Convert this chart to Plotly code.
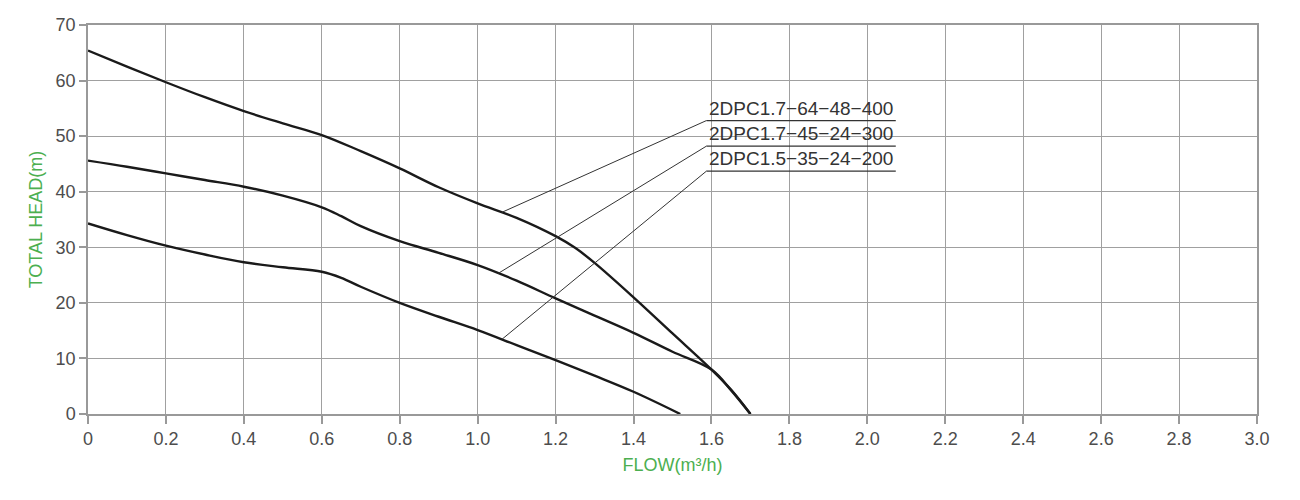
import numpy as np
import plotly.graph_objects as go

# ---- data ----
c1_x = [0, 0.1, 0.2, 0.3, 0.4, 0.5, 0.6, 0.7, 0.8, 0.9, 1.0, 1.1, 1.2, 1.25, 1.3, 1.4, 1.5, 1.6, 1.65, 1.7]
c1_y = [65.4, 62.5, 59.7, 57.0, 54.5, 52.3, 50.2, 47.3, 44.2, 40.8, 37.9, 35.3, 32.0, 29.9, 27.2, 21.0, 14.5, 8.0, 4.4, 0]

c2_x = [0, 0.1, 0.2, 0.3, 0.4, 0.5, 0.6, 0.65, 0.7, 0.8, 0.9, 1.0, 1.1, 1.2, 1.3, 1.4, 1.5, 1.6, 1.65, 1.7]
c2_y = [45.6, 44.5, 43.3, 42.1, 40.9, 39.3, 37.2, 35.6, 33.8, 31.1, 29.0, 26.8, 24.0, 20.8, 17.7, 14.6, 11.2, 8.0, 4.3, 0]

c3_x = [0, 0.1, 0.2, 0.3, 0.4, 0.5, 0.6, 0.65, 0.7, 0.8, 0.9, 1.0, 1.1, 1.2, 1.3, 1.4, 1.52]
c3_y = [34.3, 32.2, 30.3, 28.7, 27.3, 26.4, 25.6, 24.5, 22.9, 20.0, 17.5, 15.1, 12.4, 9.7, 6.9, 4.0, 0]

series_names = ["2DPC1.7\u221264\u221248\u2212400", "2DPC1.7\u221245\u221224\u2212300", "2DPC1.5\u221235\u221224\u2212200"]
attach_x = [1.062, 1.053, 1.062]

x_ticks = [0, 0.2, 0.4, 0.6, 0.8, 1.0, 1.2, 1.4, 1.6, 1.8, 2.0, 2.2, 2.4, 2.6, 2.8, 3.0]
x_tick_text = ["0", "0.2", "0.4", "0.6", "0.8", "1.0", "1.2", "1.4", "1.6", "1.8", "2.0", "2.2", "2.4", "2.6", "2.8", "3.0"]
y_ticks = [0, 10, 20, 30, 40, 50, 60, 70]

# ---- figure ----
fig = go.Figure()
curves = [(c1_x, c1_y), (c2_x, c2_y), (c3_x, c3_y)]
for (cx, cy), name in zip(curves, series_names):
    fig.add_trace(go.Scatter(x=cx, y=cy, mode="lines", name=name,
                             line=dict(color="#1a1a1a", width=2.4, shape="spline", smoothing=1.0),
                             showlegend=False, hoverinfo="skip"))

# label underlines + leader lines
label_y = [52.8, 48.2, 43.7]
ul_x0, ul_x1 = 1.587, 2.073
for (cx, cy), name, ax_, ly in zip(curves, series_names, attach_x, label_y):
    ay_ = float(np.interp(ax_, cx, cy))
    fig.add_shape(type="line", x0=ul_x0, x1=ul_x1, y0=ly, y1=ly,
                  line=dict(color="#333333", width=1.2))
    fig.add_shape(type="line", x0=ul_x0, y0=ly, x1=ax_, y1=ay_,
                  line=dict(color="#333333", width=1))
    fig.add_annotation(x=ul_x0, y=ly, text=name, showarrow=False,
                       xanchor="left", yanchor="bottom", xshift=1, yshift=0,
                       font=dict(family="Liberation Sans", size=19, color="#333333"))

axis_common = dict(showgrid=True, gridcolor="#a0a0a0", gridwidth=1.2,
                   showline=True, linecolor="#999999", linewidth=1.5, mirror=True,
                   zeroline=False, ticks="outside", tickcolor="#999999", tickwidth=1.5,
                   tickfont=dict(family="Liberation Sans", size=18, color="#4d4d4d"))

fig.update_xaxes(range=[0, 3.0], tickvals=x_ticks, ticktext=x_tick_text, ticklen=8,
                 title=dict(text="FLOW(m\u00b3/h)", standoff=10,
                            font=dict(family="Liberation Sans", size=18, color="#4caf50")),
                 **axis_common)
fig.update_yaxes(range=[0, 70], tickvals=y_ticks, ticklen=7,
                 title=dict(text="TOTAL HEAD(m)", standoff=8,
                            font=dict(family="Liberation Sans", size=18, color="#4caf50")),
                 **axis_common)

fig.update_layout(width=1300, height=500, margin=dict(l=88, r=43, t=25, b=86),
                  plot_bgcolor="white", paper_bgcolor="white")

fig.write_html("out.html")
